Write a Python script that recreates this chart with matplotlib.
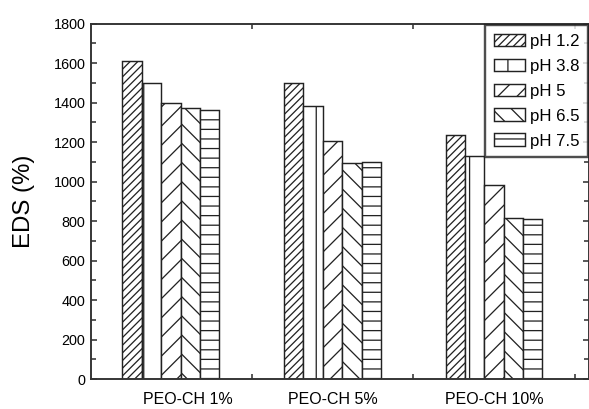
import numpy as np
import matplotlib.pyplot as plt
from matplotlib.ticker import MultipleLocator
from matplotlib.transforms import ScaledTranslation

# swelling (EDS) of the PEO-chitosan films at each pH
groups = ['PEO-CH 1%', 'PEO-CH 5%', 'PEO-CH 10%']
ph_labels = ['pH 1.2', 'pH 3.8', 'pH 5', 'pH 6.5', 'pH 7.5']
eds = {
    'pH 1.2': [1610, 1500, 1235],
    'pH 3.8': [1500, 1380, 1130],
    'pH 5':   [1400, 1205, 980],
    'pH 6.5': [1370, 1092, 815],
    'pH 7.5': [1360, 1100, 810],
}
hatches = ['/////', '|', '//', '\\\\', '--']

plt.rcParams['font.family'] = ['Liberation Sans', 'DejaVu Sans']
plt.rcParams['hatch.linewidth'] = 0.8
plt.rcParams['hatch.color'] = '#222222'

dpi = 115
fig = plt.figure(figsize=(589 / dpi, 409 / dpi), dpi=dpi)
ax = fig.add_axes([0.1545, 0.0733, 0.846, 0.8692])

x = np.arange(1, len(groups) + 1)
w = 0.12
for i, ph in enumerate(ph_labels):
    ax.bar(x + (i - 2) * w, eds[ph], w, color='white', edgecolor='#222222',
           linewidth=0.9, hatch=hatches[i], label=ph)

ax.set_xlim(0.505, 3.59)
ax.set_ylim(0, 1800)
ax.yaxis.set_major_locator(MultipleLocator(200))
ax.yaxis.set_minor_locator(MultipleLocator(100))
ax.set_xticks(x)
ax.set_xticklabels(groups, fontsize=10)
ax.set_xticks([1.5, 2.5, 3.5], minor=True)
ax.tick_params(axis='x', which='major', length=0, pad=8)
ax.tick_params(axis='x', which='minor', direction='in', length=3, top=True,
               width=1, color='#333333')
ax.tick_params(axis='y', which='both', direction='in', right=True,
               width=1, color='#333333', labelsize=9)
ax.tick_params(axis='y', which='major', length=4)
ax.tick_params(axis='y', which='minor', length=3)

# first category label sits a little to the right
lbl = ax.get_xticklabels()[0]
lbl.set_transform(lbl.get_transform() + ScaledTranslation(17 / dpi, 0, fig.dpi_scale_trans))

for s in ax.spines.values():
    s.set_linewidth(1.2)
    s.set_color('#333333')

ax.set_ylabel('EDS (%)', fontsize=15, labelpad=11.5)

leg = ax.legend(loc='upper right', fontsize=10.5, frameon=True, fancybox=False,
                borderaxespad=0.1, handlelength=1.85, handleheight=0.8,
                handletextpad=0.3, labelspacing=0.58, borderpad=0.5)
leg.get_frame().set_edgecolor('#222222')
leg.get_frame().set_linewidth(1.5)

fig.savefig('out.png', dpi=dpi)
